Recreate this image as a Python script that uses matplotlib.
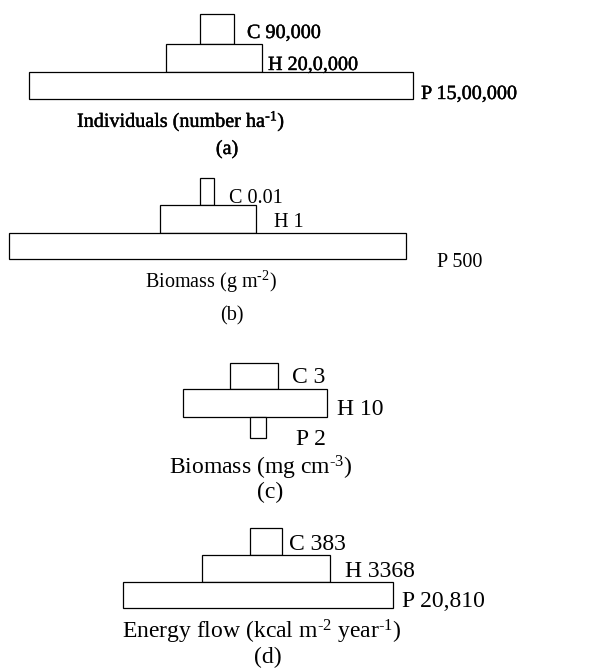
import matplotlib
matplotlib.use('Agg')
import matplotlib.pyplot as plt
import matplotlib.patheffects as pe

plt.rcParams['font.family'] = ['Liberation Serif', 'DejaVu Serif']
plt.rcParams['mathtext.fontset'] = 'custom'
plt.rcParams['mathtext.rm'] = 'Liberation Serif'
plt.rcParams['mathtext.it'] = 'Liberation Serif:italic'

# trophic levels, top to bottom
levels = ['C', 'H', 'P']

# values shown next to each level
individuals = ['90,000', '20,0,000', '15,00,000']
biomass_g = ['0.01', '1', '500']
biomass_mg = ['3', '10', '2']
energy = ['383', '3368', '20,810']

hy = '\u2010'  # plain hyphen, mathtext would turn '-' into a wide minus
units = ['Individuals (number ha$^{\\mathrm{%s1}}$)' % hy,
         'Biomass (g m$^{\\mathrm{%s2}}$)' % hy,
         'Biomass (mg cm$^{\\mathrm{%s3}}$)' % hy,
         'Energy flow (kcal m$^{\\mathrm{%s2}}$ year$^{\\mathrm{%s1}}$)' % (hy, hy)]
tags = ['(a)', '(b)', '(c)', '(d)']
panel_values = [individuals, biomass_g, biomass_mg, energy]

# layout (pixel units): boxes as (left, right, top, bottom)
boxes = [
    [(200, 234, 14, 44), (166, 262, 44, 72), (29, 413, 72, 99)],
    [(200, 214, 178, 205), (160, 256, 205, 233), (9, 406, 233, 259)],
    [(230, 278, 363, 389), (183, 327, 389, 417), (250, 266, 417, 438)],
    [(250, 282, 528, 555), (202, 330, 555, 582), (123, 393, 582, 608)],
]
# value label anchors (left x, baseline y)
label_pos = [
    [(247, 38), (268, 70), (421, 99)],
    [(229, 203), (274, 227), (437, 267)],
    [(292, 383), (337, 415), (296, 445)],
    [(289, 550), (345, 577), (402, 607)],
]
unit_pos = [(181, 127), (211, 288), (261, 474), (262, 638)]
tag_pos = [(227, 154), (232, 320), (270, 498), (268, 663)]
font_sizes = [14.5, 14.5, 17, 17]

fig = plt.figure(figsize=(6.1, 6.71), dpi=100)
ax = fig.add_axes([0, 0, 1, 1])
ax.set_xlim(0, 610)
ax.set_ylim(671, 0)
ax.axis('off')

for i in range(4):
    fs = font_sizes[i]
    # panel (a) text looks a little heavier in the original
    effects = [pe.withStroke(linewidth=0.3, foreground='black')] if i == 0 else None
    for j, lvl in enumerate(levels):
        l, r, t, b = boxes[i][j]
        ax.barh((t + b) / 2, r - l, left=l, height=b - t,
                facecolor='white', edgecolor='black', linewidth=0.9)
        x, y = label_pos[i][j]
        ax.text(x, y, f'{lvl} {panel_values[i][j]}', fontsize=fs,
                ha='left', va='baseline', path_effects=effects)
    ux, uy = unit_pos[i]
    ax.text(ux, uy, units[i], fontsize=fs, ha='center', va='baseline',
            path_effects=effects)
    tx, ty = tag_pos[i]
    ax.text(tx, ty, tags[i], fontsize=fs, ha='center', va='baseline',
            path_effects=effects)

fig.savefig('out.png', dpi=100)
